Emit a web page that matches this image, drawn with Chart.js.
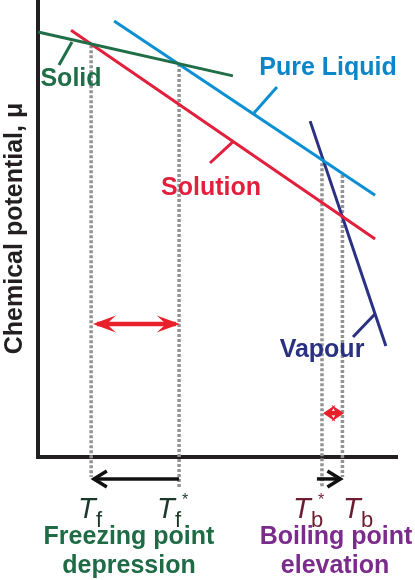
<!DOCTYPE html>
<html>
<head>
<meta charset="utf-8">
<script src="https://cdn.jsdelivr.net/npm/chart.js@4.4.1/dist/chart.umd.min.js"></script>
<style>
  html, body { margin: 0; padding: 0; background: #fff; }
</style>
</head>
<body>
<canvas id="chart" width="415" height="580"></canvas>
<script>
// temperature runs 0..100 along x, chemical potential 0..100 up y (arbitrary units)
const solidT = [0, 54.3];
const solidMu = [93.0, 83.4];
const solutionT = [9.2, 93.9];
const solutionMu = [93.4, 47.7];
const liquidT = [21.2, 93.9];
const liquidMu = [95.4, 57.3];
const vapourT = [75.8, 96.9];
const vapourMu = [73.5, 24.3];

// Tf, Tf*, Tb*, Tb : dotted drop lines
const markT = [14.8, 39.3, 79.1, 84.8];
const markTop = [90.1, 86.0, 64.3, 61.7];
const markBottom = [-4.4, -6.8, -6.8, -4.4];

// short leader lines from labels to curves
const leaderT = [[5.85, 9.47], [60.17, 66.57], [47.91, 54.2], [87.74, 93.87]];
const leaderMu = [[85.78, 90.81], [75.27, 80.96], [64.33, 68.9], [26.26, 31.29]];

// black shift arrows below the axis (freezing, boiling)
const shiftFrom = [39.3, 77.7];
const shiftTo = [15.0, 84.8];
const shiftMu = -4.8;

// red double arrows showing the gap
const gapFrom = [15.3, 79.4];
const gapTo = [39.5, 85.2];
const gapMu = [29.1, 9.6];

const FONT = '"Liberation Sans", Arial, sans-serif';
const colors = {
  solid: '#1f6e47',
  solution: '#e21f3d',
  liquid: '#0b8fd3',
  vapour: '#2a3182',
  dotted: '#939393',
  axis: '#231f20',
  arrowRed: '#e8202c'
};

function seg(xs, ys, color, width, dash) {
  return {
    data: xs.map((x, i) => ({ x: x, y: ys[i] })),
    showLine: true,
    borderColor: color,
    borderWidth: width,
    borderDash: dash || [],
    borderCapStyle: 'butt',
    pointRadius: 0,
    clip: false
  };
}

const leaderColors = [colors.solid, colors.liquid, colors.solution, colors.vapour];

const datasets = [
  seg(solidT, solidMu, colors.solid, 3),
  seg(solutionT, solutionMu, colors.solution, 3),
  seg(liquidT, liquidMu, colors.liquid, 3),
  seg(vapourT, vapourMu, colors.vapour, 3),
  ...leaderT.map((t, i) => seg(t, leaderMu[i], leaderColors[i], 3)),
  ...markT.map((t, i) => seg([t, t], [markTop[i], markBottom[i]], colors.dotted, 3.5, [3, 2]))
];

// text annotations (pixel positions)
const curveLabels = [
  { text: 'Solid', x: 71, y: 86, color: colors.solid },
  { text: 'Pure Liquid', x: 328, y: 75, color: '#0a86c9' },
  { text: 'Solution', x: 211, y: 195, color: colors.solution },
  { text: 'Vapour', x: 322, y: 357, color: colors.vapour },
  { text: 'Freezing point', x: 129, y: 544, color: '#1f6b45' },
  { text: 'depression', x: 129, y: 573, color: '#1f6b45' },
  { text: 'Boiling point', x: 336, y: 544, color: '#7b2b8b' },
  { text: 'elevation', x: 335, y: 573, color: '#7b2b8b' }
];

const tempLabels = [
  { sub: 'f', star: false, x: 78, color: '#1c3a2b' },
  { sub: 'f', star: true, x: 157, color: '#1c3a2b' },
  { sub: 'b', star: true, x: 293, color: '#6e1c30' },
  { sub: 'b', star: false, x: 343, color: '#6e1c30' }
];

function openHead(ctx, tipX, tipY, dir, len, half) {
  ctx.beginPath();
  ctx.moveTo(tipX + dir * len, tipY - half);
  ctx.lineTo(tipX, tipY);
  ctx.lineTo(tipX + dir * len, tipY + half);
  ctx.stroke();
}

function filledHead(ctx, tipX, tipY, dir, len, half) {
  ctx.beginPath();
  ctx.moveTo(tipX, tipY);
  ctx.lineTo(tipX + dir * len, tipY - half);
  ctx.lineTo(tipX + dir * len * 0.6, tipY);
  ctx.lineTo(tipX + dir * len, tipY + half);
  ctx.closePath();
  ctx.fill();
}

const annotate = {
  id: 'annotate',
  afterDatasetsDraw(chart) {
    const ctx = chart.ctx;
    const xs = chart.scales.x;
    const ys = chart.scales.y;
    ctx.save();
    ctx.lineJoin = 'miter';
    ctx.lineCap = 'butt';

    // red double arrows
    ctx.strokeStyle = colors.arrowRed;
    ctx.fillStyle = colors.arrowRed;
    ctx.lineWidth = 4.5;
    gapFrom.forEach((t, i) => {
      const x1 = xs.getPixelForValue(t);
      const x2 = xs.getPixelForValue(gapTo[i]);
      const y = ys.getPixelForValue(gapMu[i]);
      const len = Math.min(23, (x2 - x1) * 0.6);
      ctx.beginPath();
      ctx.moveTo(x1 + 4, y);
      ctx.lineTo(x2 - 4, y);
      ctx.stroke();
      filledHead(ctx, x1, y, 1, len, 8.5);
      filledHead(ctx, x2, y, -1, len, 8.5);
    });

    // black shift arrows
    ctx.strokeStyle = '#111';
    ctx.lineWidth = 3.5;
    shiftFrom.forEach((t, i) => {
      const x1 = xs.getPixelForValue(t);
      const x2 = xs.getPixelForValue(shiftTo[i]);
      const y = ys.getPixelForValue(shiftMu);
      const dir = x2 > x1 ? -1 : 1;
      ctx.beginPath();
      ctx.moveTo(x1, y);
      ctx.lineTo(x2 + dir * 2, y);
      ctx.stroke();
      openHead(ctx, x2 + dir * 2, y, dir, 13, 8);
    });

    // labels
    ctx.textAlign = 'center';
    ctx.textBaseline = 'alphabetic';
    ctx.font = 'bold 25px ' + FONT;
    curveLabels.forEach(l => {
      ctx.fillStyle = l.color;
      ctx.fillText(l.text, l.x, l.y);
    });

    ctx.textAlign = 'left';
    tempLabels.forEach(l => {
      ctx.fillStyle = l.color;
      ctx.font = 'italic 29px ' + FONT;
      ctx.fillText('T', l.x, 518);
      ctx.font = '22px ' + FONT;
      ctx.fillText(l.sub, l.x + 18, 527);
      if (l.star) {
        ctx.font = '16px ' + FONT;
        ctx.fillText('*', l.x + 25, 505);
      }
    });
    ctx.restore();
  }
};

const hidden = {
  ticks: { display: false },
  grid: { display: false, drawTicks: false },
  border: { display: true, width: 4, color: colors.axis }
};

new Chart(document.getElementById('chart'), {
  type: 'scatter',
  data: { datasets: datasets },
  options: {
    responsive: false,
    animation: false,
    layout: { padding: { left: 0, top: 0, right: 18, bottom: 123 } },
    plugins: { legend: { display: false }, tooltip: { enabled: false } },
    scales: {
      x: Object.assign({ type: 'linear', min: 0, max: 100 }, hidden),
      y: Object.assign({ type: 'linear', min: 0, max: 100 }, hidden, {
        title: {
          display: true,
          text: 'Chemical potential, μ',
          color: colors.axis,
          font: { family: FONT, size: 25, weight: 'bold' },
          padding: { top: 0, bottom: 8 }
        }
      })
    }
  },
  plugins: [annotate]
});
</script>
</body>
</html>
